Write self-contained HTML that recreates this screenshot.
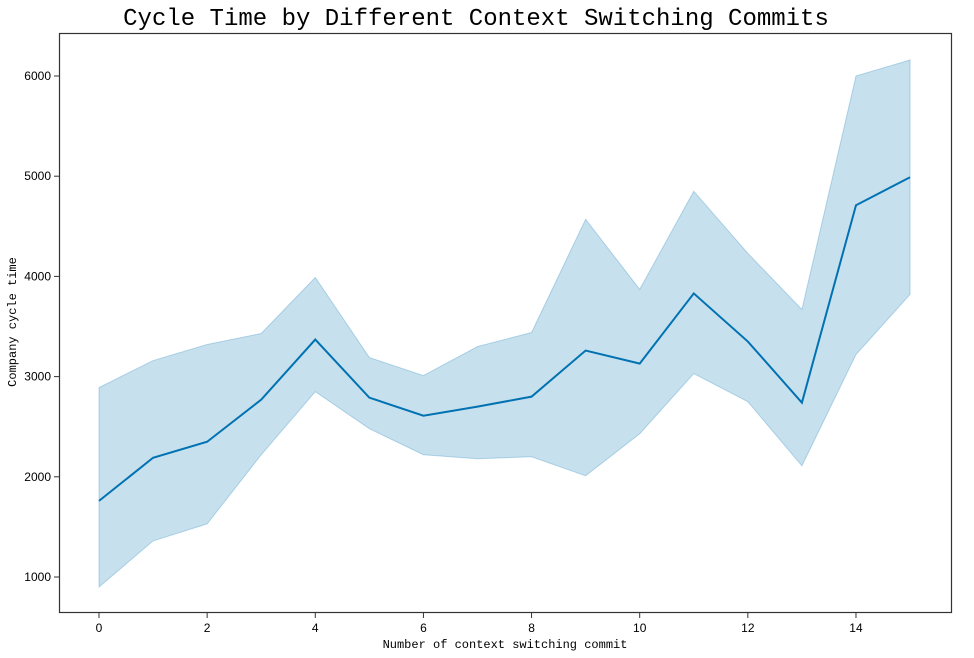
<!DOCTYPE html>
<html><head><meta charset="utf-8"><style>
body{margin:0;background:#fff;}
svg{display:block;}
.t{font-family:"Liberation Sans",sans-serif;font-size:12px;fill:#000;}
.c{font-family:"WenQuanYi Zen Hei","Liberation Mono",monospace;fill:#000;}
</style></head><body>
<svg id="chart" width="974" height="658">
<text class="c" x="476" y="25" text-anchor="middle" font-size="24">Cycle Time by Different Context Switching Commits</text>
<text class="c" x="505" y="648" text-anchor="middle" font-size="12">Number of context switching commit</text>
<text class="c" x="0" y="0" text-anchor="middle" font-size="12" transform="translate(16,322) rotate(-90)">Company cycle time</text>
<g id="plot"></g>
<rect x="59.5" y="33.5" width="892" height="579" fill="none" stroke="#333" stroke-width="1.2"/>
</svg>
<script>
const xs=[0,1,2,3,4,5,6,7,8,9,10,11,12,13,14,15];
const meanVals=[1760,2190,2350,2770,3370,2790,2610,2700,2800,3260,3130,3830,3350,2740,4710,4990];
const upperVals=[2890,3160,3320,3430,3990,3190,3010,3300,3440,4570,3870,4850,4230,3670,6000,6160];
const lowerVals=[900,1360,1530,2220,2850,2480,2220,2180,2200,2010,2430,3030,2750,2110,3220,3820];
const xTicks=[0,2,4,6,8,10,12,14];
const yTicks=[1000,2000,3000,4000,5000,6000];
const X=v=>99+v*54.07;
const Y=v=>577-(v-1000)*0.1002;
const NS="http://www.w3.org/2000/svg";
const g=document.getElementById('plot');
function mk(t,a){const e=document.createElementNS(NS,t);for(const k in a)e.setAttribute(k,a[k]);g.appendChild(e);return e;}
let d=xs.map((x,i)=>(i?'L':'M')+X(x)+','+Y(upperVals[i])).join('');
for(let i=xs.length-1;i>=0;i--)d+='L'+X(xs[i])+','+Y(lowerVals[i]);
const band=mk('path',{d:d+'Z',fill:'#0072b2','fill-opacity':0.22,stroke:'#0072b2','stroke-opacity':0.25});


const ln=mk('path',{d:xs.map((x,i)=>(i?'L':'M')+X(x)+','+Y(meanVals[i])).join(''),fill:'none',stroke:'#0072b2','stroke-width':2});


xTicks.forEach(v=>{
  mk('line',{x1:X(v),x2:X(v),y1:613,y2:618,stroke:'#333'});
  const t=mk('text',{x:X(v),y:632,'text-anchor':'middle',class:'t'});t.textContent=v;
  
  
});
yTicks.forEach(v=>{
  mk('line',{x1:54,x2:59,y1:Y(v),y2:Y(v),stroke:'#333'});
  const t=mk('text',{x:51,y:Y(v)+4,'text-anchor':'end',class:'t'});t.textContent=v;
  
  
});
</script>
</body></html>
